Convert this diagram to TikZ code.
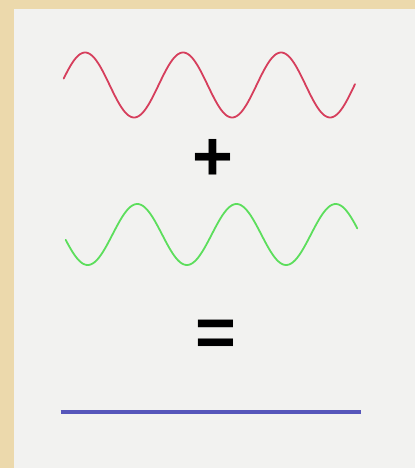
\documentclass[tikz,border=0pt]{standalone}
\usepackage{fontspec}
\setmainfont{Liberation Sans}
\definecolor{parch}{RGB}{236,217,172}
\definecolor{panel}{RGB}{242,242,240}
\definecolor{wavered}{RGB}{214,62,92}
\definecolor{wavegreen}{RGB}{92,222,92}
\definecolor{lineblue}{RGB}{86,86,186}
\tikzset{
  wave/.style={line width=1.8pt, line join=round, line cap=round},
  opsign/.style={inner sep=0pt, font=\fontsize{70}{70}\selectfont\bfseries, text=black}
}
\begin{document}
\begin{tikzpicture}[x=1pt,y=-1pt]
\useasboundingbox (0,0) rectangle (415,468);
\fill[parch] (0,0) rectangle (415,468);
\fill[panel] (14,9) rectangle (415,468);
\draw[wave, wavered] plot[domain=63.7:355, samples=240, smooth] (\x, {85 - 32.5*sin((\x-60.6)/98*360)});
\node[opsign] (plus) at (213,160) {+};
\draw[wave, wavegreen] plot[domain=65.7:357.3, samples=240, smooth] (\x, {234.5 + 30.5*sin((\x-62.9)/99.2*360)});
\node[opsign] (eq) at (216,338) {=};
\coordinate (bl) at (60.7,412);
\coordinate (br) at (361.3,412);
\draw[lineblue, line width=3.3pt] (bl) -- (br);
\end{tikzpicture}
\end{document}
